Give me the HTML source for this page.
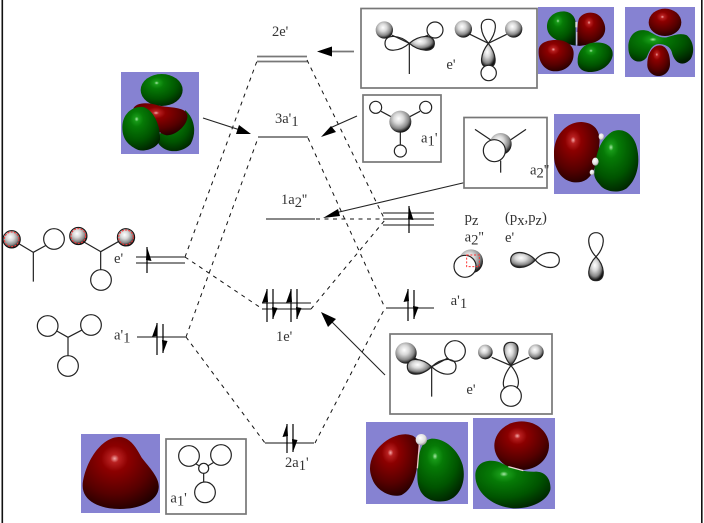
<!DOCTYPE html>
<html><head><meta charset="utf-8">
<style>
html,body{margin:0;padding:0;background:#fff;width:704px;height:523px;overflow:hidden}
svg{display:block}
text{font-family:"Liberation Serif",serif;fill:#333}
</style></head><body>
<svg width="704" height="523" viewBox="0 0 704 523" xmlns="http://www.w3.org/2000/svg">
<defs>
<radialGradient id="r" cx=".42" cy=".3" r=".8"><stop offset="0" stop-color="#f4a8a8"/><stop offset=".07" stop-color="#b82020"/><stop offset=".22" stop-color="#8c0000"/><stop offset=".62" stop-color="#560000"/><stop offset="1" stop-color="#140000"/></radialGradient>
<radialGradient id="g" cx=".38" cy=".28" r=".8"><stop offset="0" stop-color="#a8e8a8"/><stop offset=".07" stop-color="#189a18"/><stop offset=".22" stop-color="#067a06"/><stop offset=".62" stop-color="#005400"/><stop offset="1" stop-color="#001c00"/></radialGradient>
<radialGradient id="s" cx=".42" cy=".36" r=".64"><stop offset="0" stop-color="#fff"/><stop offset=".35" stop-color="#d8d8d8"/><stop offset=".72" stop-color="#888"/><stop offset=".94" stop-color="#222"/><stop offset="1" stop-color="#111"/></radialGradient>
<radialGradient id="w" cx=".4" cy=".35" r=".65"><stop offset="0" stop-color="#fff"/><stop offset=".7" stop-color="#ddd"/><stop offset="1" stop-color="#999"/></radialGradient>
</defs>

<!-- borders -->
<rect x="1.5" y="0" width="1.6" height="523" fill="#111"/>
<rect x="701" y="0" width="1.6" height="523" fill="#111"/>

<!-- dashed correlation lines -->
<g fill="none" stroke="#111" stroke-width="1" stroke-dasharray="4 4.500">
<path d="M185 257L257 61M185 257L261 308"/>
<path d="M186 337L258 138M186 337L265 443"/>
<path d="M307 60L384 218M311 309L385 220"/>
<path d="M308 138L385 308M315 443L385 308"/>
<path d="M316 219L385 219"/>
</g>

<!-- levels -->
<g stroke="#777" stroke-width="1.8" fill="none">
<path d="M257 56.500H307M257 61.500H307"/>
<path d="M258 137H308"/>
<path d="M266 219H315"/>
<path d="M262 303H311M262 309H311"/>
<path d="M265 443H314"/>
<path d="M136 257H185M136 263H185"/>
<path d="M137 337H186"/>
<path d="M383 213H434M383 219H434M383 225H434"/>
<path d="M386 308H434"/>
</g>

<!-- electrons -->
<g stroke="#000" stroke-width="1.2" fill="none">
<path d="M147 247V273M157 323V355M163 324V353"/>
<path d="M267 289V322M273 289V319M291 289V322M297 289V319"/>
<path d="M409 206V233M408 289V321M414 290V319"/>
<path d="M287 424V453M293 424V452"/>
</g>
<g fill="#000">
<path d="M147 247L151.500 261L146 260Z"/>
<path d="M157 323L152 337L157.500 336ZM163 353L162 340L167.500 341Z"/>
<path d="M267 289L262 303L268 302ZM273 319L272 307L277.500 308Z"/>
<path d="M291 289L286 303L292 302ZM297 319L296 307L301.500 308Z"/>
<path d="M409 206L413.500 220L408 219Z"/>
<path d="M408 289L403.500 302L409 301ZM414 319L413 306L418.500 307Z"/>
<path d="M287 424L282.500 437L288 436ZM293 452L292 439L297.500 440Z"/>
</g>

<!-- pointer arrows -->
<g stroke="#222" stroke-width="1.1" fill="none">
<path d="M354 51.500H325" stroke="#777" stroke-width="1.8"/>
<path d="M357 116L330 128"/>
<path d="M203 118L240 130"/>
<path d="M467 182L335 213"/>
<path d="M385 375L330 320"/>
</g>
<g fill="#000">
<path d="M317 51.500L332 46.500V56.500Z"/>
<path d="M321 137L331 126L336 132Z"/>
<path d="M251 134L236 134L239 125Z"/>
<path d="M323 218L338 209L340 216Z"/>
<path d="M321 312L336 319L328 327Z"/>
</g>

<!-- boxes -->
<g fill="#fff" stroke="#777" stroke-width="1.7">
<rect x="361" y="8.500" width="176" height="79.500"/>
<rect x="363" y="95" width="78" height="67"/>
<rect x="464" y="117.500" width="83" height="70.500"/>
<rect x="390" y="334" width="162" height="80"/>
<rect x="166" y="439" width="80" height="75"/>
</g>

<!-- MO panels -->
<g fill="#8682d2">
<rect x="538" y="7" width="76" height="67"/>
<rect x="625" y="7" width="70" height="70"/>
<rect x="554" y="114" width="86" height="80"/>
<rect x="121" y="72" width="78" height="82"/>
<rect x="81" y="434" width="79" height="79"/>
<rect x="366" y="422" width="102" height="82"/>
<rect x="473" y="418" width="82" height="91"/>
</g>

<!-- zoom-2 space: top right -->
<g transform="translate(355,0) scale(.33333)">
<path fill="url(#g)" d="M662 137C625 130 578 118 576 82C575 50 600 33 628 34C652 36 665 55 662 80Z"/>
<path fill="url(#r)" d="M667 137C667 110 666 70 672 56C686 32 725 32 740 55C762 88 748 118 715 128C700 134 680 139 667 137Z"/>
<path fill="url(#r)" d="M551 150C553 124 590 116 622 122C648 130 660 146 655 172C650 202 620 218 590 213C563 206 549 180 551 150Z"/>
<path fill="url(#g)" d="M668 182C668 150 690 130 716 128C752 124 776 140 773 166C768 196 735 218 700 216C680 214 667 202 668 182Z"/>
<rect x="661" y="66" width="6" height="16" fill="#ddd"/><rect x="664" y="96" width="3" height="38" fill="#ddd"/>

<ellipse cx="930" cy="67" rx="49" ry="41" fill="url(#r)"/>
<path fill="url(#g)" d="M820 135C824 98 850 84 880 93C900 104 915 115 935 112C960 105 975 98 996 106C1016 124 1020 155 1007 177C985 202 958 192 950 155C945 140 930 132 910 132C890 135 885 150 875 172C860 192 833 187 824 165C820 155 820 145 820 135Z"/>
<path fill="url(#r)" d="M877 190C878 160 893 135 915 136C936 137 946 165 945 192C945 216 925 230 908 228C889 226 875 210 877 190Z"/>

<path fill="url(#r)" d="M597 460C597 400 640 365 680 366C720 368 738 395 733 435C728 480 720 520 695 538C665 558 620 545 605 505C598 490 597 475 597 460Z"/>
<path fill="url(#g)" d="M718 515C722 460 735 420 770 396C800 380 835 400 845 440C858 490 845 540 815 565C790 582 750 575 735 555C722 540 716 530 718 515Z"/>
<ellipse cx="721" cy="485" rx="10" ry="12" fill="url(#w)"/><ellipse cx="739" cy="410" rx="8" ry="10" fill="url(#w)"/><ellipse cx="711" cy="517" rx="7" ry="8" fill="url(#w)"/>

<!-- box 1 -->
<g stroke="#222" stroke-width="3.600" fill="none">
<path d="M163 130V222M163 130L110 105M163 130L220 105"/>
<circle cx="88" cy="90" r="26" fill="url(#s)" stroke="none"/>
<path d="M163 130C135 105 90 100 90 130C90 160 135 155 163 130Z"/>
<path d="M163 130C190 105 238 100 238 130C238 160 190 155 163 130Z" fill="url(#s)"/>
<circle cx="240" cy="90" r="24" fill="#fff"/>
<path d="M400 130L345 103M400 130L455 103"/>
<circle cx="325" cy="87" r="26" fill="url(#s)" stroke="none"/>
<circle cx="476" cy="87" r="26" fill="url(#s)" stroke="none"/>
<path d="M400 130C376 100 368 58 400 58C432 58 424 100 400 130Z"/>
<path d="M400 130C378 158 368 202 400 202C432 202 422 158 400 130Z" fill="url(#s)"/>
<circle cx="401" cy="219" r="23" fill="#fff"/>
<!-- box 2 -->
<path d="M78 334L136 365M195 334L136 365M136 365V435"/>
<circle cx="136" cy="365" r="33" fill="url(#s)" stroke="none"/>
<circle cx="62" cy="322" r="18" fill="#fff"/><circle cx="212" cy="322" r="18" fill="#fff"/><circle cx="136" cy="453" r="18" fill="#fff"/>
<!-- box 3 -->
<path d="M360 388L437 440M513 388L437 440"/>
<circle cx="437" cy="432" r="33" fill="url(#s)" stroke="none"/>
<circle cx="418" cy="452" r="33" fill="#fff"/>
<path d="M437 482V518"/>
</g>
<text x="274" y="207" font-size="44">e'</text>
<text x="198" y="428" font-size="44">a<tspan dy="9">1</tspan><tspan dy="-9">'</tspan></text>
<text x="525" y="524" font-size="44">a<tspan dy="9">2</tspan><tspan dy="-9">''</tspan></text>
</g>

<!-- left orbital D -->
<g transform="translate(110,60) scale(.33333)">
<path fill="url(#g)" d="M150 220C190 210 225 170 225 150C252 172 262 215 242 252C215 282 165 280 145 250Z"/>
<ellipse cx="155" cy="90" rx="63" ry="48" fill="url(#g)"/>
<path fill="url(#r)" d="M70 145C80 128 110 125 150 138C190 143 228 143 232 165C236 192 200 226 170 226C135 220 120 170 70 145Z"/>
<path fill="url(#g)" d="M37 200C38 160 68 138 100 141C132 150 152 200 150 238C145 262 110 276 85 270C53 256 36 235 37 200Z"/>
</g>

<!-- bottom-left E + box 5 -->
<g transform="translate(70,425) scale(.33333)">
<path fill="url(#r)" d="M38 180C42 125 85 40 145 36C180 34 200 70 215 98C240 130 270 160 266 190C262 230 205 252 150 252C90 252 36 228 38 180Z"/>
<g stroke="#222" stroke-width="3.600" fill="#fff">
<path d="M375 115L401 130L430 113M401 130V180" fill="none"/>
<circle cx="357" cy="93" r="31"/><circle cx="453" cy="90" r="31"/><circle cx="405" cy="202" r="31"/><circle cx="401" cy="130" r="15"/>
</g>
<text x="301" y="232" font-size="44">a<tspan dy="9">1</tspan><tspan dy="-9">'</tspan></text>
</g>

<!-- zoom-4 space -->
<g transform="translate(360,325) scale(.33333)">
<path fill="url(#r)" d="M30 430C30 375 90 325 140 328C172 330 178 350 176 380C173 430 165 490 125 510C90 520 50 495 38 465C32 450 30 440 30 430Z"/>
<path fill="url(#g)" d="M172 445C172 400 180 345 215 341C255 340 295 375 308 420C320 470 300 515 262 527C230 535 190 525 178 490C172 475 172 460 172 445Z"/>
<path d="M178 360L172 430" stroke="#f0c8c8" stroke-width="4"/>
<circle cx="184" cy="344" r="17" fill="url(#w)"/>
<ellipse cx="485" cy="362" rx="82" ry="73" fill="url(#r)"/>
<path fill="url(#g)" d="M346 450C348 410 385 400 420 412C450 428 490 442 530 440C562 442 574 470 571 495C560 530 510 552 460 550C400 545 345 505 346 450Z"/>
<path d="M445 425L490 437" stroke="#f0d8d8" stroke-width="4"/>
<g stroke="#222" stroke-width="3.600" fill="none">
<path d="M215 125V215M215 125L165 100M215 125L262 100"/>
<circle cx="138" cy="84" r="32" fill="url(#s)" stroke="none"/>
<path d="M215 125C185 97 142 95 142 125C142 155 185 155 215 125Z" fill="url(#s)"/>
<path d="M215 125C245 97 288 95 288 125C288 155 245 155 215 125Z"/>
<circle cx="285" cy="78" r="31"/>
<path d="M453 122L395 97M453 122L508 97"/>
<circle cx="376" cy="81" r="22" fill="url(#s)" stroke="none"/>
<circle cx="528" cy="81" r="23" fill="url(#s)" stroke="none"/>
<path d="M453 122C430 95 420 52 453 52C486 52 476 95 453 122Z" fill="url(#s)"/>
<path d="M453 122C430 150 425 180 435 190M453 122C476 150 480 175 470 190"/>
<circle cx="453" cy="213" r="31"/>
</g>
<text x="319" y="207" font-size="44">e'</text>
</g>

<!-- zoom-3 space: p orbitals -->
<g transform="translate(380,190) scale(.33333)">
<g stroke="#222" stroke-width="3.600" fill="none">
<circle cx="273" cy="214" r="36" fill="url(#s)" stroke="none"/>
<circle cx="255" cy="229" r="33" fill="#fff"/>
<rect x="260" y="195" width="38" height="35" stroke="#f33" stroke-dasharray="6 5" stroke-width="3"/>
<path d="M466 210C440 180 392 180 392 210C392 240 440 240 466 210Z" fill="url(#s)"/>
<path d="M466 210C490 180 538 180 538 210C538 240 490 240 466 210Z"/>
<path d="M648 200C622 175 616 128 648 128C680 128 674 175 648 200Z"/>
<path d="M648 200C622 225 616 272 648 272C680 272 674 225 648 200Z" fill="url(#s)"/>
</g>
<text x="254" y="96" font-size="44">p<tspan dy="9">z</tspan></text>
<text x="375" y="96" font-size="44">(p<tspan dy="9">x</tspan><tspan dy="-9">,p</tspan><tspan dy="9">z</tspan><tspan dy="-9">)</tspan></text>
<text x="254" y="155" font-size="44">a<tspan dy="9">2</tspan><tspan dy="-9">''</tspan></text>
<text x="375" y="156" font-size="44">e'</text>
<text x="212" y="345" font-size="44">a'<tspan dy="9">1</tspan></text>
</g>

<!-- zoom-1 space: left fragments -->
<g transform="translate(0,210) scale(.33333)">
<g stroke="#222" stroke-width="3.600" fill="none">
<path d="M100 127L55 100M100 127L140 105M100 127V215"/>
<circle cx="35" cy="88" r="26" fill="url(#s)" stroke="#111" stroke-width="3"/>
<circle cx="35" cy="88" r="22" stroke="#f33" stroke-width="3" stroke-dasharray="6 4"/>
<circle cx="162" cy="87" r="31" fill="#fff"/>
<path d="M302 125L250 95M302 125L360 92M302 125V180"/>
<circle cx="235" cy="78" r="26" fill="url(#s)" stroke="#111" stroke-width="3"/>
<circle cx="235" cy="78" r="22" stroke="#f33" stroke-width="3" stroke-dasharray="6 4"/>
<circle cx="378" cy="82" r="26" fill="url(#s)" stroke="#111" stroke-width="3"/>
<circle cx="378" cy="82" r="22" stroke="#f33" stroke-width="3" stroke-dasharray="6 4"/>
<circle cx="303" cy="210" r="31" fill="#fff"/>
<path d="M204 382L165 360M204 382L250 358M204 382V440"/>
<circle cx="143" cy="348" r="31" fill="#fff"/><circle cx="273" cy="345" r="31" fill="#fff"/><circle cx="204" cy="468" r="31" fill="#fff"/>
</g>
<text x="342" y="159" font-size="44">e'</text>
<text x="342" y="388" font-size="44">a'<tspan dy="9">1</tspan></text>
</g>

<!-- level labels -->
<g font-size="14.500">
<text x="272" y="36">2e'</text>
<text x="275" y="123">3a'<tspan dy="3">1</tspan></text>
<text x="281" y="204">1a<tspan dy="3">2</tspan><tspan dy="-3">''</tspan></text>
<text x="276" y="341">1e'</text>
<text x="285" y="467">2a<tspan dy="3">1</tspan><tspan dy="-3">'</tspan></text>
</g>
</svg>
</body></html>
